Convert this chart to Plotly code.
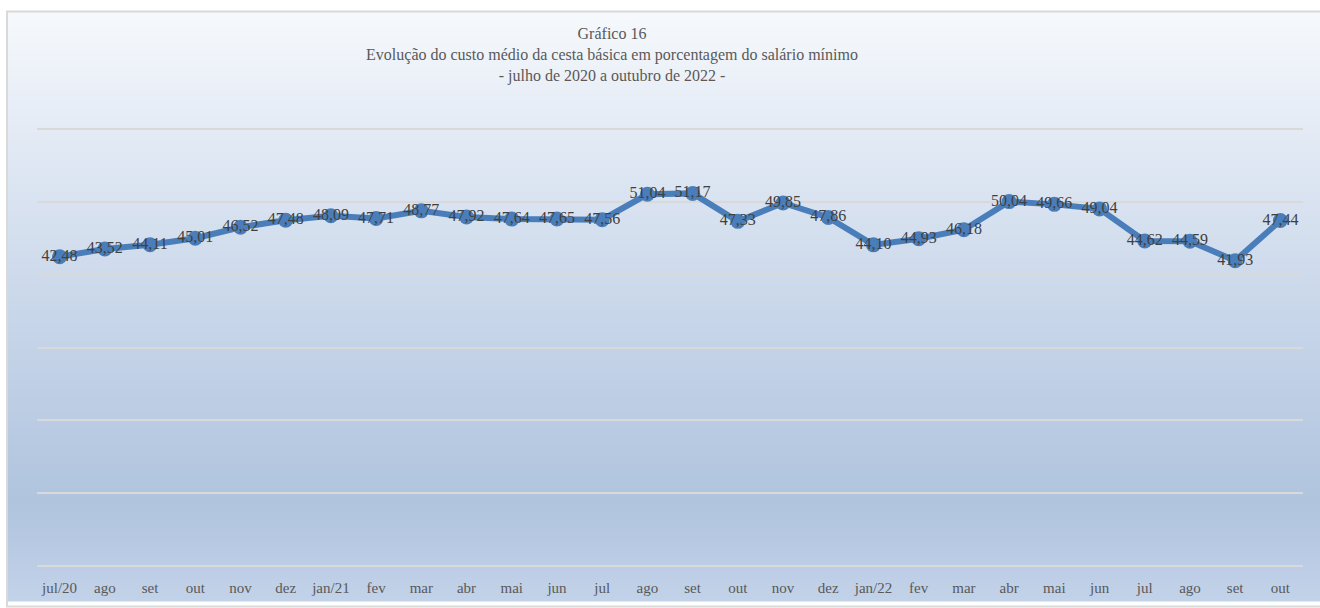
import plotly.graph_objects as go

# ---- data ----
categories = ["jul/20", "ago", "set", "out", "nov", "dez", "jan/21", "fev", "mar", "abr",
              "mai", "jun", "jul", "ago", "set", "out", "nov", "dez", "jan/22", "fev",
              "mar", "abr", "mai", "jun", "jul", "ago", "set", "out"]
values = [42.48, 43.52, 44.11, 45.01, 46.52, 47.48, 48.09, 47.71, 48.77, 47.92,
          47.64, 47.65, 47.56, 51.04, 51.17, 47.33, 49.85, 47.86, 44.10, 44.93,
          46.18, 50.04, 49.66, 49.04, 44.62, 44.59, 41.93, 47.44]
positions = list(range(len(categories)))

# ---- layout geometry (pixels) ----
W, H = 1320, 608
ML, MR, MT, MB = 37, 17, 128, 35
PW, PH = W - ML - MR, H - MT - MB


def px_x(p):
    return (p - ML) / PW


def px_y(q):
    return (H - MB - q) / PH


# gradient stops (fraction from top of chart area, rgb)
stops = [(0.0, (246, 249, 252)), (0.2, (228, 235, 245)), (0.5, (201, 215, 234)),
         (0.83, (176, 196, 222)), (1.0, (194, 210, 233))]


def color_at(f):
    for (f0, c0), (f1, c1) in zip(stops[:-1], stops[1:]):
        if f0 <= f <= f1:
            t = (f - f0) / (f1 - f0) if f1 > f0 else 0
            return "rgb(%d,%d,%d)" % tuple(round(a + (b - a) * t) for a, b in zip(c0, c1))
    return "rgb(%d,%d,%d)" % stops[-1][1]


area_top, area_bot, area_left, area_right = 9, H, 6, W
n = 150
shapes = []
for i in range(n):
    q0 = area_top + (area_bot - area_top) * i / n
    q1 = area_top + (area_bot - area_top) * (i + 1) / n + 0.8
    shapes.append(dict(type="rect", xref="paper", yref="paper",
                       x0=px_x(area_left), x1=px_x(area_right),
                       y0=px_y(min(q1, area_bot)), y1=px_y(q0),
                       fillcolor=color_at((i + 0.5) / n), line=dict(width=0),
                       layer="below"))
shapes.append(dict(type="rect", xref="paper", yref="paper",
                   x0=px_x(area_left + 1), x1=px_x(area_right + 5),
                   y0=px_y(area_bot + 5), y1=px_y(area_top + 1),
                   fillcolor="rgba(0,0,0,0)", line=dict(color="#d9d9d9", width=2),
                   layer="below"))

fig = go.Figure()
fig.add_trace(go.Scatter(
    x=positions, y=values, mode="lines+markers+text",
    line=dict(color="#4a7ebb", width=6),
    marker=dict(color="#4a7ebb", size=15, symbol="circle"),
    text=values, texttemplate="%{y:.2f}", textposition="middle center",
    textfont=dict(family="Liberation Serif", size=16, color="#404040"),
    cliponaxis=False, showlegend=False, hoverinfo="x+y",
))

fig.update_layout(
    width=W, height=H,
    margin=dict(l=ML, r=MR, t=MT, b=MB, pad=0),
    paper_bgcolor="white", plot_bgcolor="rgba(0,0,0,0)",
    separators=",.",
    shapes=shapes,
    title=dict(
        text="Gráfico 16<br>Evolução do custo médio da cesta básica em porcentagem do salário mínimo<br>- julho de 2020 a outubro de 2022 -",
        x=px_x(612), xref="paper", xanchor="center",
        y=1 - 39 / H, yref="container", yanchor="top",
        font=dict(family="Liberation Serif", size=16, color="#595959"),
    ),
    xaxis=dict(range=[-0.5, len(categories) - 0.5], tickvals=positions, ticktext=categories,
               showgrid=False, zeroline=False, showline=False, ticks="",
               ticklabelstandoff=10,
               tickfont=dict(family="Liberation Serif", size=15, color="#595959")),
    yaxis=dict(range=[-0.15, 60.15], tickvals=[0, 10, 20, 30, 40, 50, 60],
               showgrid=True, gridcolor="#d9d9d9", gridwidth=2,
               zeroline=False, showline=False, showticklabels=False, ticks=""),
)

fig.write_html("out.html", config={"displayModeBar": False},
               post_script="document.body.style.margin='0px';document.body.style.overflow='hidden';")
